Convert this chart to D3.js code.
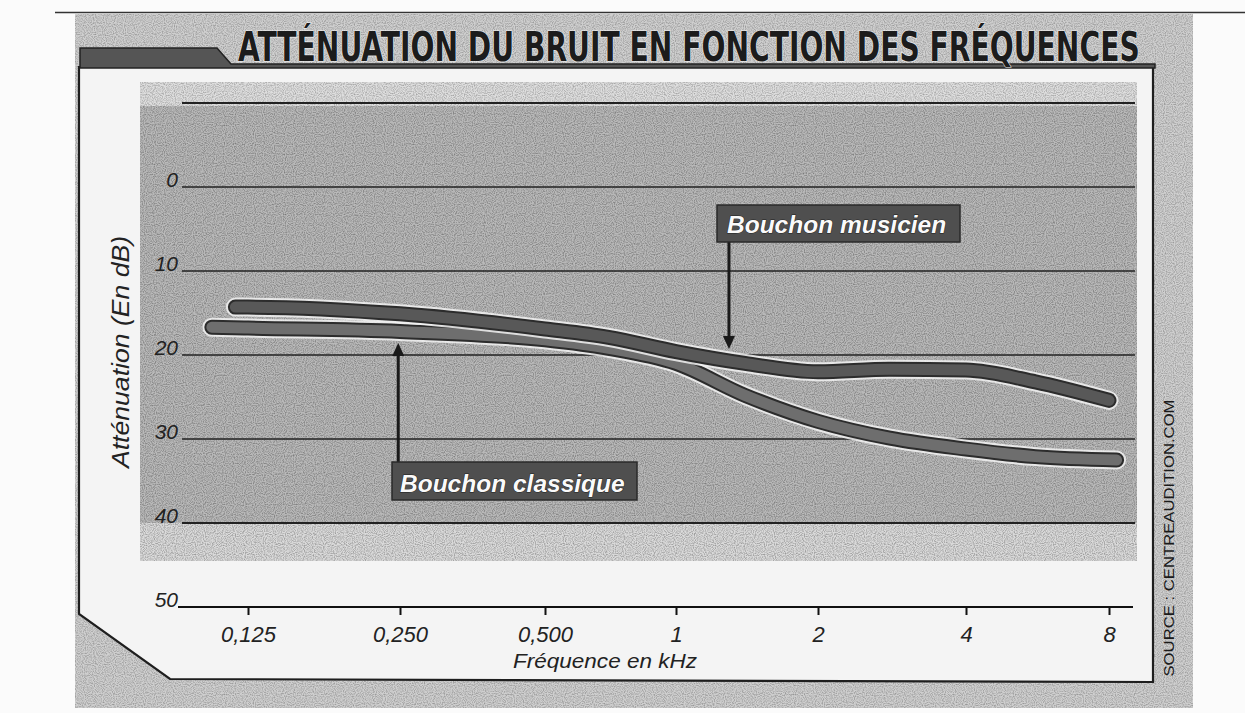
<!DOCTYPE html>
<html>
<head>
<meta charset="utf-8">
<script src="https://cdn.jsdelivr.net/npm/d3@7/dist/d3.min.js"></script>
<style>
  html, body { margin: 0; padding: 0; background: #fbfbfb; }
  svg { display: block; }
</style>
</head>
<body>
<svg id="chart" width="1245" height="713"></svg>
<script>
// ---------------- DATA ----------------
const title = "ATTÉNUATION DU BRUIT EN FONCTION DES FRÉQUENCES";
const yTitle = "Atténuation (En dB)";
const xTitle = "Fréquence en kHz";
const source = "SOURCE : CENTREAUDITION.COM";

const xTickValues = [0.125, 0.25, 0.5, 1, 2, 4, 8];
const xTickLabels = ["0,125", "0,250", "0,500", "1", "2", "4", "8"];
const yTickValues = [0, 10, 20, 30, 40, 50];
const yGridValues = [-10, 0, 10, 20, 30, 40];

const musicienFreq = [0.118, 0.125, 0.25, 0.5, 0.7, 1, 1.4, 2, 2.8, 4, 5.6, 8];
const musicienDb   = [14.3, 14.3, 15.1, 16.9, 17.9, 19.6, 21.0, 22.0, 21.7, 21.8, 23.2, 25.4];

const classiqueFreq = [0.106, 0.125, 0.25, 0.5, 0.7, 1, 1.4, 2, 2.8, 4, 5.6, 8.3];
const classiqueDb   = [16.7, 16.8, 17.2, 18.2, 19.2, 21.0, 24.8, 27.9, 29.9, 31.2, 32.1, 32.5];

const seriesNames = ["Bouchon musicien", "Bouchon classique"];

// ---------------- SETUP ----------------
const svg = d3.select("#chart");
// hand-drawn axis: octave ticks are not perfectly evenly spaced -> piecewise log scale
const x = d3.scaleLog().base(2).domain(xTickValues).range([248, 400, 545, 676, 818, 966, 1109]);
const y = d3.scaleLinear().domain([0, 50]).range([187, 607]);

const defs = svg.append("defs");
const f = defs.append("filter").attr("id", "grain").attr("filterUnits", "userSpaceOnUse")
  .attr("x", 0).attr("y", 0).attr("width", 1245).attr("height", 713);
f.append("feTurbulence").attr("type", "fractalNoise").attr("baseFrequency", 0.9)
  .attr("numOctaves", 1).attr("seed", 5).attr("result", "n");
f.append("feColorMatrix").attr("in", "n").attr("type", "matrix")
  .attr("values", "0 0 0 0 0  0 0 0 0 0  0 0 0 0 0  1.8 0 0 0 -0.7").attr("result", "a");
f.append("feComposite").attr("in", "a").attr("in2", "SourceGraphic").attr("operator", "in");

function grainRect(x0, y0, w, h, fill, op) {
  svg.append("rect").attr("x", x0).attr("y", y0).attr("width", w).attr("height", h).attr("fill", fill);
  svg.append("rect").attr("x", x0).attr("y", y0).attr("width", w).attr("height", h)
    .attr("fill", "#000").attr("filter", "url(#grain)").attr("opacity", op);
}

// Outer textured frame
grainRect(75, 14, 1118, 694, "#cfcfcf", 0.35);
svg.append("line").attr("x1", 55).attr("x2", 1245).attr("y1", 12.5).attr("y2", 12.5)
  .attr("stroke", "#333").attr("stroke-width", 1.5);

// Inner white panel with cut corner
const panel = [[79, 67], [1153, 67], [1153, 682], [170, 679], [79, 614]];
svg.append("path").attr("d", "M" + panel.map(p => p.join(",")).join("L") + "Z")
  .attr("fill", "#f4f4f4").attr("stroke", "#1e1e1e").attr("stroke-width", 2.2);

// Title tab
svg.append("path").attr("d", "M80,48 L217,48 L231,64 L1155,64 L1155,68 L80,68 Z")
  .attr("fill", "#555").attr("stroke", "#222").attr("stroke-width", 1.5);

const titleText = svg.append("text").attr("x", 0).attr("y", 0)
  .attr("font-family", "'Liberation Sans Narrow','DejaVu Sans Condensed','Liberation Sans',Arial,sans-serif")
  .attr("font-weight", "bold").attr("font-size", 40)
  .attr("fill", "#1c1c1c").attr("stroke", "#f0f0f0").attr("stroke-width", 1.2)
  .attr("paint-order", "stroke")
  .text(title);
const natW = titleText.node().getComputedTextLength() || 902;
titleText.attr("transform", `translate(238,61) scale(${902 / natW},1)`);

// Plot grey areas
grainRect(140, 82, 997, 26, "#dedede", 0.35);
grainRect(140, 106, 997, 417, "#b9b9b9", 0.42);
grainRect(140, 523, 997, 38, "#dadada", 0.4);

// Grid lines
svg.append("g").selectAll("line").data(yGridValues).join("line")
  .attr("x1", 182).attr("x2", 1135)
  .attr("y1", d => y(d)).attr("y2", d => y(d))
  .attr("stroke", "#222").attr("stroke-width", d => d === -10 || d === 40 ? 2 : 1.4);

// Y axis labels
const yAxis = svg.append("g").attr("transform", "translate(180,0)")
  .call(d3.axisLeft(y).tickValues(yTickValues).tickSize(0).tickPadding(2));
yAxis.select(".domain").remove();
yAxis.selectAll("text").attr("dy", "-0.02em")
  .attr("font-family", "'Liberation Sans',Arial,sans-serif").attr("font-style", "italic")
  .attr("font-size", 21).attr("fill", "#222");

// X axis
svg.append("line").attr("x1", 178).attr("x2", 1133).attr("y1", y(50)).attr("y2", y(50))
  .attr("stroke", "#111").attr("stroke-width", 2.2);
const xAxis = svg.append("g").attr("transform", `translate(0,${y(50)})`)
  .call(d3.axisBottom(x).tickValues(xTickValues).tickSize(8)
    .tickFormat((d, i) => xTickLabels[i]));
xAxis.select(".domain").remove();
xAxis.selectAll(".tick line").attr("stroke", "#111").attr("stroke-width", 2);
xAxis.selectAll("text").attr("y", 35).attr("dy", 0)
  .attr("font-family", "'Liberation Sans',Arial,sans-serif").attr("font-style", "italic")
  .attr("font-size", 22).attr("fill", "#222");

svg.append("text").attr("x", 605).attr("y", 668).attr("text-anchor", "middle")
  .attr("font-family", "'Liberation Sans',Arial,sans-serif").attr("font-style", "italic")
  .attr("font-size", 20).attr("textLength", 184).attr("lengthAdjust", "spacingAndGlyphs")
  .attr("fill", "#222").text(xTitle);

svg.append("text").attr("transform", "translate(129,352) rotate(-90)").attr("text-anchor", "middle")
  .attr("font-family", "'Liberation Sans',Arial,sans-serif").attr("font-style", "italic")
  .attr("font-size", 23).attr("textLength", 232).attr("lengthAdjust", "spacingAndGlyphs")
  .attr("fill", "#222").text(yTitle);

// Source
svg.append("text").attr("transform", "translate(1174,538) rotate(-90)").attr("text-anchor", "middle")
  .attr("font-family", "'Liberation Sans Narrow','Liberation Sans',Arial,sans-serif")
  .attr("font-size", 15).attr("textLength", 277).attr("lengthAdjust", "spacingAndGlyphs")
  .attr("fill", "#1a1a1a").text(source);

// Curves
const line = d3.line().x(d => x(d[0])).y(d => y(d[1])).curve(d3.curveMonotoneX);
const musicien = musicienFreq.map((fq, i) => [fq, musicienDb[i]]);
const classique = classiqueFreq.map((fq, i) => [fq, classiqueDb[i]]);

function drawCurve(data, inner) {
  const g = svg.append("g").attr("fill", "none").attr("stroke-linecap", "round").attr("stroke-linejoin", "round");
  g.append("path").attr("d", line(data)).attr("stroke", "#f2f2f2").attr("stroke-width", 19).attr("opacity", 0.85);
  g.append("path").attr("d", line(data)).attr("stroke", "#2c2c2c").attr("stroke-width", 15);
  g.append("path").attr("d", line(data)).attr("stroke", inner).attr("stroke-width", 11);
}
drawCurve(classique, "#6e6e6e");
drawCurve(musicien, "#585858");

// Annotations
function labelBox(x0, y0, w, h, txt, tx, ty) {
  svg.append("rect").attr("x", x0).attr("y", y0).attr("width", w).attr("height", h)
    .attr("fill", "#4f4f4f").attr("stroke", "#2a2a2a").attr("stroke-width", 1.5);
  svg.append("text").attr("x", tx).attr("y", ty)
    .attr("font-family", "'Liberation Sans',Arial,sans-serif").attr("font-style", "italic")
    .attr("font-weight", "bold").attr("font-size", 24.5)
    .attr("fill", "#fafafa").attr("stroke", "#222").attr("stroke-width", 1).attr("paint-order", "stroke")
    .text(txt);
}
function arrow(ax, yFrom, yTip, dir) {
  svg.append("line").attr("x1", ax).attr("x2", ax).attr("y1", yFrom).attr("y2", yTip - dir * 10)
    .attr("stroke", "#1a1a1a").attr("stroke-width", 3);
  svg.append("path").attr("d", `M${ax - 6},${yTip - dir * 13} L${ax + 6},${yTip - dir * 13} L${ax},${yTip} Z`)
    .attr("fill", "#1a1a1a");
}

arrow(x(1.295), 242, 349, 1);
labelBox(717, 205, 243, 37, seriesNames[0], 727, 233);

arrow(x(0.248), 462, 343, -1);
labelBox(392, 462, 245, 38, seriesNames[1], 400, 492);
</script>
</body>
</html>
